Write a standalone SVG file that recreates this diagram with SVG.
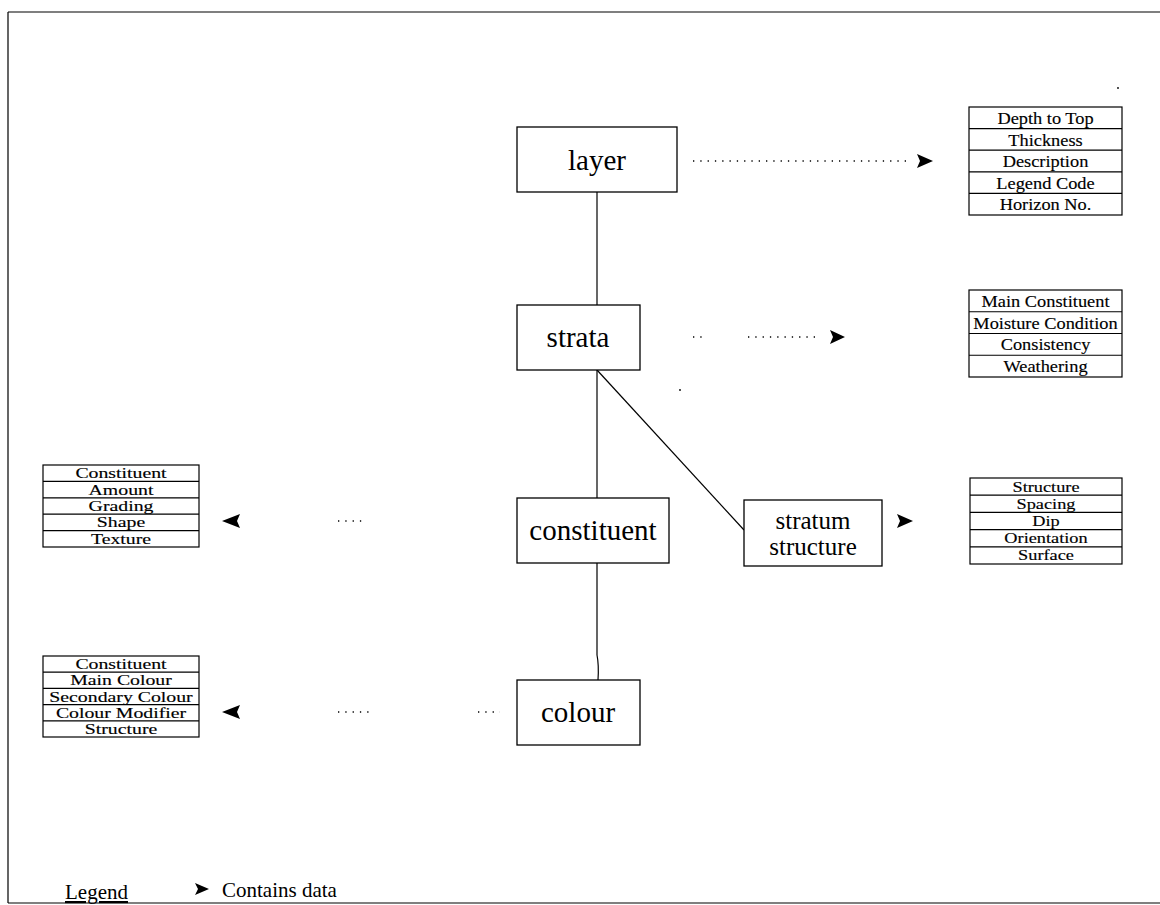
<svg xmlns="http://www.w3.org/2000/svg" width="1160" height="905" viewBox="0 0 1160 905">
<style>
.box{fill:#fff;stroke:#000;stroke-width:1.3}
.lbl{font-family:"Liberation Serif",serif;font-size:29px;text-anchor:middle;fill:#000}
.tb{fill:#fff;stroke:#000;stroke-width:1.2}
.tr{stroke:#000;stroke-width:1.2}
.tt{font-family:"Liberation Serif",serif;font-size:15px;text-anchor:middle;fill:#000;stroke:#000;stroke-width:0.15}
.tt17{font-size:17px}
.ln{stroke:#000;stroke-width:1.2;fill:none}
.dot{stroke:#000;stroke-width:1.3;fill:none;stroke-dasharray:1.3 6}
.ah{fill:#000}
.lg{font-family:"Liberation Serif",serif;font-size:21px;fill:#000}
</style>
<rect width="1160" height="905" fill="#fff"/>
<g id="frame">
<path class="ln" d="M8 12 H1160 M8 12 V903 M8 903 H1160"/>
<circle cx="1118" cy="88" r="0.9"/>
<circle cx="680" cy="390" r="0.9"/>
</g>
<g id="connectors">
<line class="ln" x1="597" y1="192" x2="597" y2="305"/>
<line class="ln" x1="597" y1="370" x2="597" y2="498"/>
<line class="ln" x1="597" y1="370" x2="744" y2="530"/>
<path class="ln" d="M597 563 V655 Q599 665 598 680"/>
<line class="dot" x1="693" y1="161" x2="910" y2="161"/>
<path class="ah" d="M917 154 L933 161 L917 168 L920 161 Z"/>
<path class="dot" d="M693 337 H705 M748 337 H815"/>
<path class="ah" d="M830 330 L845 337 L830 344 L833 337 Z"/>
<path class="ah" d="M897 514 L913 521 L897 528 L900 521 Z"/>
<path class="dot" d="M338 521 H362"/>
<path class="ah" d="M240 514 L222 521 L240 528 L237 521 Z"/>
<path class="dot" d="M338 712 H372 M478 712 H500"/>
<path class="ah" d="M240 705 L222 712 L240 719 L237 712 Z"/>
</g>
<g id="layer">
<rect class="box" x="517" y="127" width="160" height="65"/>
<text class="lbl" x="597" y="170">layer</text>
</g>
<g id="strata">
<rect class="box" x="517" y="305" width="123" height="65"/>
<text class="lbl" x="578" y="347">strata</text>
</g>
<g id="constituent">
<rect class="box" x="517" y="498" width="152" height="65"/>
<text class="lbl" x="593" y="540">constituent</text>
</g>
<g id="stratum-structure">
<rect class="box" x="744" y="500" width="138" height="66"/>
<text class="lbl" x="813" y="529" style="font-size:25px">stratum</text>
<text class="lbl" x="813" y="555" style="font-size:25px">structure</text>
</g>
<g id="colour">
<rect class="box" x="517" y="680" width="123" height="65"/>
<text class="lbl" x="578" y="722">colour</text>
</g>
<g id="layer-data">
<rect class="tb" x="969" y="107" width="153" height="108"/>
<path class="tr" d="M969 128.6 H1122 M969 150.2 H1122 M969 171.8 H1122 M969 193.4 H1122"/>
<g transform="translate(1045.5 0) scale(1.08 1)">
<text class="tt tt17" x="0" y="124">Depth to Top</text>
<text class="tt tt17" x="0" y="146">Thickness</text>
<text class="tt tt17" x="0" y="167">Description</text>
<text class="tt tt17" x="0" y="189">Legend Code</text>
<text class="tt tt17" x="0" y="210">Horizon No.</text>
</g>
</g>
<g id="strata-data">
<rect class="tb" x="969" y="290" width="153" height="87"/>
<path class="tr" d="M969 311.75 H1122 M969 333.5 H1122 M969 355.25 H1122"/>
<g transform="translate(1045.5 0) scale(1.08 1)">
<text class="tt tt17" x="0" y="307">Main Constituent</text>
<text class="tt tt17" x="0" y="329">Moisture Condition</text>
<text class="tt tt17" x="0" y="350">Consistency</text>
<text class="tt tt17" x="0" y="372">Weathering</text>
</g>
</g>
<g id="structure-data">
<rect class="tb" x="970" y="478" width="152" height="86"/>
<path class="tr" d="M970 495.2 H1122 M970 512.4 H1122 M970 529.6 H1122 M970 546.8 H1122"/>
<g transform="translate(1046 0) scale(1.22 1)">
<text class="tt" x="0" y="492">Structure</text>
<text class="tt" x="0" y="509">Spacing</text>
<text class="tt" x="0" y="526">Dip</text>
<text class="tt" x="0" y="543">Orientation</text>
<text class="tt" x="0" y="560.5">Surface</text>
</g>
</g>
<g id="constituent-data">
<rect class="tb" x="43" y="465" width="156" height="82"/>
<path class="tr" d="M43 481.4 H199 M43 497.8 H199 M43 514.2 H199 M43 530.6 H199"/>
<g transform="translate(121 0) scale(1.32 1)">
<text class="tt" x="0" y="478.5">Constituent</text>
<text class="tt" x="0" y="495">Amount</text>
<text class="tt" x="0" y="511">Grading</text>
<text class="tt" x="0" y="527.5">Shape</text>
<text class="tt" x="0" y="544">Texture</text>
</g>
</g>
<g id="colour-data">
<rect class="tb" x="43" y="656" width="156" height="81"/>
<path class="tr" d="M43 672.2 H199 M43 688.4 H199 M43 704.6 H199 M43 720.8 H199"/>
<g transform="translate(121 0) scale(1.32 1)">
<text class="tt" x="0" y="669.5">Constituent</text>
<text class="tt" x="0" y="685.5">Main Colour</text>
<text class="tt" x="0" y="702">Secondary Colour</text>
<text class="tt" x="0" y="718">Colour Modifier</text>
<text class="tt" x="0" y="734.5">Structure</text>
</g>
</g>
<g id="legend">
<text class="lg" x="65" y="899" style="text-decoration:underline">Legend</text>
<path class="ah" d="M195 883 L209 889 L195 895 L198 889 Z"/>
<text class="lg" x="222" y="897">Contains data</text>
</g>
</svg>
